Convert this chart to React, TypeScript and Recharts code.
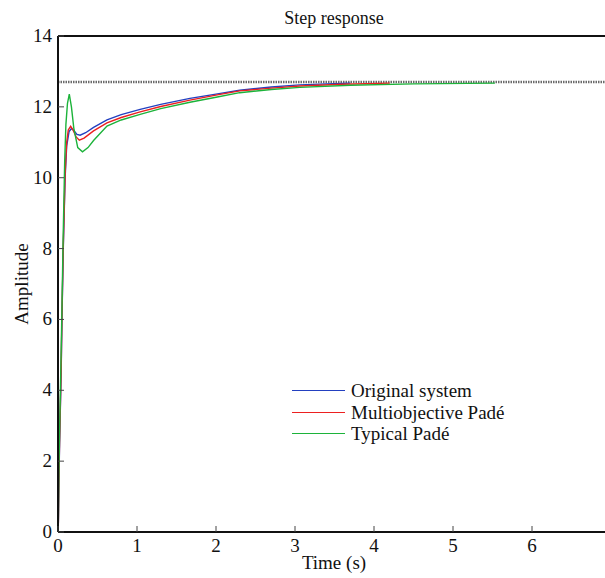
import { LineChart, Line, XAxis, YAxis, ReferenceLine } from "recharts"

// time (s) / amplitude samples
const origT = [0, 0.005, 0.01, 0.02, 0.04, 0.05, 0.067, 0.09, 0.11, 0.14, 0.17, 0.2, 0.24, 0.28, 0.35, 0.45, 0.62, 0.8, 1.04, 1.3, 1.67, 2.0, 2.3, 2.7, 3.06, 3.4, 3.7]
const origY = [0, 0.3, 1.2, 2.5, 4.5, 6.0, 8.0, 10.0, 10.9, 11.3, 11.39, 11.33, 11.22, 11.2, 11.27, 11.42, 11.63, 11.78, 11.93, 12.07, 12.24, 12.36, 12.47, 12.56, 12.62, 12.65, 12.67]

const multiT = [0, 0.005, 0.01, 0.02, 0.04, 0.05, 0.067, 0.09, 0.11, 0.13, 0.16, 0.19, 0.23, 0.27, 0.33, 0.45, 0.62, 0.8, 1.04, 1.3, 1.67, 2.0, 2.3, 2.7, 3.06, 3.6, 4.2]
const multiY = [0, 0.3, 1.3, 2.6, 4.6, 6.1, 8.1, 10.1, 11.0, 11.35, 11.45, 11.35, 11.15, 11.06, 11.12, 11.32, 11.55, 11.7, 11.86, 12.01, 12.19, 12.33, 12.45, 12.53, 12.59, 12.64, 12.67]

const typT = [0, 0.005, 0.01, 0.02, 0.035, 0.05, 0.065, 0.085, 0.1, 0.12, 0.143, 0.17, 0.2, 0.25, 0.31, 0.38, 0.45, 0.62, 0.8, 1.04, 1.3, 1.67, 2.0, 2.3, 2.7, 3.06, 3.7, 4.5, 5.53]
const typY = [0, 0.4, 1.5, 2.8, 4.5, 6.3, 8.3, 10.5, 11.5, 12.1, 12.36, 12.0, 11.4, 10.85, 10.73, 10.85, 11.05, 11.46, 11.63, 11.79, 11.95, 12.13, 12.27, 12.4, 12.49, 12.55, 12.61, 12.65, 12.67]

const steadyState = 12.7

const xTicks = [0, 1, 2, 3, 4, 5, 6, 7]
const yTicks = [0, 2, 4, 6, 8, 10, 12, 14]

const series = [
  { name: "Original system", color: "#2340c0", t: origT, y: origY },
  { name: "Multiobjective Padé", color: "#ec2020", t: multiT, y: multiY },
  { name: "Typical Padé", color: "#1cb33a", t: typT, y: typY },
]

const FONT = "'Liberation Serif', 'DejaVu Serif', serif"
const TICK = 6

const toRows = (t: number[], y: number[]) => t.map((v, i) => ({ t: v, y: y[i] }))

const BottomTick = (props: any) => {
  const { x, y, payload } = props
  return (
    <g>
      <line x1={x} x2={x} y1={y} y2={y - TICK} stroke="#444" strokeWidth={1} />
      <text x={x} y={y + 20} textAnchor="middle" fontFamily={FONT} fontSize={19} fill="#111">
        {payload.value}
      </text>
    </g>
  )
}

const TopTick = (props: any) => {
  const { x, y } = props
  return <line x1={x} x2={x} y1={y} y2={y + TICK} stroke="#444" strokeWidth={1} />
}

const LeftTick = (props: any) => {
  const { x, y, payload } = props
  return (
    <g>
      <line x1={x} x2={x + TICK} y1={y} y2={y} stroke="#444" strokeWidth={1} />
      <text x={x - 6} y={y + 6} textAnchor="end" fontFamily={FONT} fontSize={19} fill="#111">
        {payload.value}
      </text>
    </g>
  )
}

const RightTick = (props: any) => {
  const { x, y } = props
  return <line x1={x - TICK} x2={x} y1={y} y2={y} stroke="#444" strokeWidth={1} />
}

export default function App() {
  return (
    <div style={{ position: "absolute", left: 0, top: 0, width: 605, height: 578, overflow: "hidden", background: "#fff" }}>
      <div style={{ position: "absolute", left: 0, width: 668, top: 8, textAlign: "center", fontFamily: FONT, fontSize: 18, color: "#111" }}>
        Step response
      </div>
      <div style={{ position: "absolute", left: 0, width: 668, top: 552, textAlign: "center", fontFamily: FONT, fontSize: 19, color: "#111" }}>
        Time (s)
      </div>
      <div
        style={{
          position: "absolute",
          left: 22,
          top: 284,
          transform: "translate(-50%, -50%) rotate(-90deg)",
          fontFamily: FONT,
          fontSize: 19,
          color: "#111",
          whiteSpace: "nowrap",
        }}
      >
        Amplitude
      </div>
      <LineChart width={640} height={578} margin={{ top: 35, right: 28, bottom: 0, left: 0 }}>
        <XAxis
          xAxisId="b"
          dataKey="t"
          type="number"
          domain={[0, 7]}
          ticks={xTicks}
          height={46}
          tickSize={0}
          tickMargin={0}
          tickLine={false}
          tick={<BottomTick />}
          axisLine={{ stroke: "#111", strokeWidth: 2 }}
          allowDataOverflow
        />
        <XAxis
          xAxisId="top"
          orientation="top"
          dataKey="t"
          type="number"
          domain={[0, 7]}
          ticks={xTicks}
          height={1}
          tickSize={0}
          tickMargin={0}
          tickLine={false}
          tick={<TopTick />}
          axisLine={{ stroke: "#111", strokeWidth: 2 }}
        />
        <YAxis
          yAxisId="l"
          type="number"
          domain={[0, 14]}
          ticks={yTicks}
          width={58}
          tickSize={0}
          tickMargin={0}
          tickLine={false}
          tick={<LeftTick />}
          axisLine={{ stroke: "#111", strokeWidth: 2 }}
        />
        <YAxis
          yAxisId="r"
          orientation="right"
          type="number"
          domain={[0, 14]}
          ticks={yTicks}
          width={1}
          tickSize={0}
          tickMargin={0}
          tickLine={false}
          tick={<RightTick />}
          axisLine={{ stroke: "#111", strokeWidth: 2 }}
        />
        <ReferenceLine xAxisId="b" yAxisId="l" y={steadyState} stroke="#6a6a6a" strokeWidth={2.5} strokeDasharray="1.5 1" />
        {series.map((s) => (
          <Line
            key={s.name}
            xAxisId="b"
            yAxisId="l"
            data={toRows(s.t, s.y)}
            dataKey="y"
            name={s.name}
            type="linear"
            stroke={s.color}
            strokeWidth={1.4}
            dot={false}
            isAnimationActive={false}
          />
        ))}
      </LineChart>
      <div style={{ position: "absolute", left: 292, top: 380, fontFamily: FONT, fontSize: 19, color: "#111", lineHeight: "21.5px" }}>
        {series.map((s) => (
          <div key={s.name} style={{ display: "flex", alignItems: "center", whiteSpace: "nowrap" }}>
            <span style={{ display: "inline-block", width: 53, height: 0, borderTop: `1.5px solid ${s.color}`, marginRight: 6 }} />
            <span>{s.name}</span>
          </div>
        ))}
      </div>
    </div>
  )
}
